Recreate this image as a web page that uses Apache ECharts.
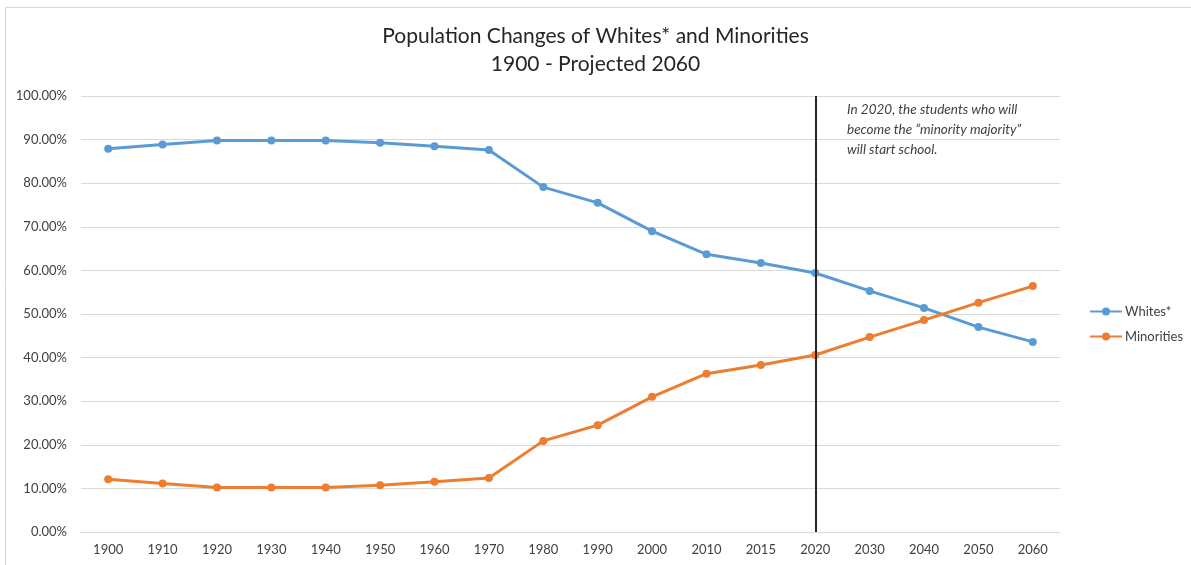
<!DOCTYPE html>
<html>
<head>
<meta charset="utf-8">
<script src="https://cdn.jsdelivr.net/npm/echarts@6/dist/echarts.min.js"></script>
<style>html,body{margin:0;padding:0;background:#fff}#c{width:1191px;height:565px}</style>
</head>
<body>
<div id="c"></div>
<script>
const years = ['1900','1910','1920','1930','1940','1950','1960','1970','1980','1990','2000','2010','2015','2020','2030','2040','2050','2060'];
const whites = [87.9,88.9,89.8,89.8,89.8,89.3,88.5,87.6,79.1,75.5,69.0,63.7,61.7,59.4,55.3,51.4,47.0,43.6];
const minorities = [12.1,11.1,10.2,10.2,10.2,10.7,11.5,12.4,20.9,24.5,31.0,36.3,38.3,40.6,44.7,48.6,52.6,56.4];
const seriesNames = ['Whites*','Minorities'];
const markYear = '2020';
const noteLines = ['In 2020, the students who will','become the \u201cminority majority\u201d','will start school.'];

const font = 'Lato, "Open Sans", sans-serif';
const chart = echarts.init(document.getElementById('c'));
chart.setOption({
  animation: false,
  backgroundColor: '#fff',
  textStyle: {fontFamily: font},
  title: {
    text: 'Population Changes of Whites* and Minorities\n1900 - Projected 2060',
    left: 'center', top: 17,
    textStyle: {fontFamily: font, fontSize: 21, fontWeight: 'normal', color: '#262626', lineHeight: 28}
  },
  legend: {
    orient: 'vertical', left: 1084, top: 300, itemGap: 12,
    itemWidth: 32, itemHeight: 10,
    textStyle: {fontFamily: font, fontSize: 13, color: '#404040', padding: [0,0,0,-2]},
    data: seriesNames
  },
  grid: {left: 81, right: 131, top: 96, bottom: 33},
  xAxis: {
    type: 'category', data: years, boundaryGap: true,
    axisLine: {lineStyle: {color: '#d9d9d9'}},
    axisTick: {show: false},
    axisLabel: {fontFamily: font, fontSize: 13, color: '#404040', margin: 11}
  },
  yAxis: {
    type: 'value', min: 0, max: 100, interval: 10,
    axisLine: {show: false}, axisTick: {show: false},
    splitLine: {lineStyle: {color: '#d9d9d9'}},
    axisLabel: {fontFamily: font, fontSize: 13, color: '#404040', margin: 14,
      formatter: v => v.toFixed(2) + '%'}
  },
  graphic: [
    {type: 'rect', shape: {x: 5.5, y: 7.5, width: 1300, height: 700},
     style: {fill: 'none', stroke: '#d9d9d9', lineWidth: 1}, silent: true},
    {type: 'text', left: 847, top: 100,
     style: {text: noteLines.join('\n'), fontFamily: font, fontStyle: 'italic', fontSize: 13.5,
             lineHeight: 20, fill: '#404040'}}
  ],
  series: [
    {
      name: seriesNames[0], type: 'line', data: whites,
      symbol: 'circle', symbolSize: 8,
      lineStyle: {width: 3, color: '#5B9BD5'}, itemStyle: {color: '#5B9BD5'},
      markLine: {
        silent: true, symbol: 'none', label: {show: false},
        lineStyle: {color: '#262626', width: 2, type: 'solid'},
        data: [{xAxis: markYear}]
      }
    },
    {
      name: seriesNames[1], type: 'line', data: minorities,
      symbol: 'circle', symbolSize: 8,
      lineStyle: {width: 3, color: '#ED7D31'}, itemStyle: {color: '#ED7D31'}
    }
  ]
});
</script>
</body>
</html>
